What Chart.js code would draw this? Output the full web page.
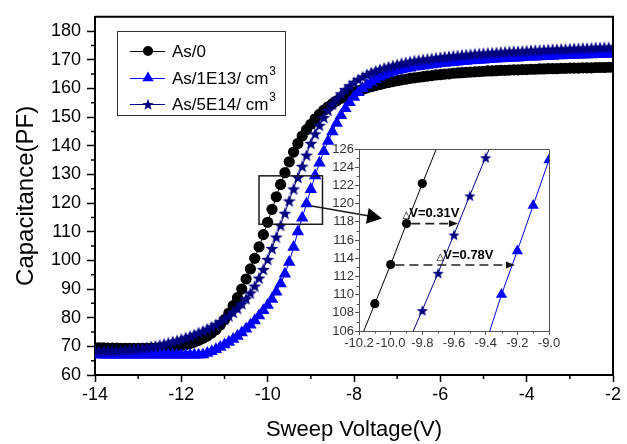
<!DOCTYPE html>
<html>
<head>
<meta charset="utf-8">
<script src="https://cdn.jsdelivr.net/npm/chart.js@4.4.1/dist/chart.umd.min.js"></script>
<style>
  html, body { margin: 0; padding: 0; background: #fff; }
  #wrap { position: relative; width: 627px; height: 444px; }
  #mainChart { position: absolute; left: 0; top: 0; }
  #insetChart { position: absolute; left: 320px; top: 140px; }
</style>
</head>
<body>
<div id="wrap">
  <canvas id="mainChart" width="627" height="444"></canvas>
  <canvas id="insetChart" width="250" height="215"></canvas>
</div>
<script>
// sweep voltage (V), one point every 0.1 V
const voltage = [
  -14.0, -13.9, -13.8, -13.7, -13.6, -13.5, -13.4, -13.3, -13.2, -13.1,
  -13.0, -12.9, -12.8, -12.7, -12.6, -12.5, -12.4, -12.3, -12.2, -12.1,
  -12.0, -11.9, -11.8, -11.7, -11.6, -11.5, -11.4, -11.3, -11.2, -11.1,
  -11.0, -10.9, -10.8, -10.7, -10.6, -10.5, -10.4, -10.3, -10.2, -10.1,
  -10.0, -9.9, -9.8, -9.7, -9.6, -9.5, -9.4, -9.3, -9.2, -9.1,
  -9.0, -8.9, -8.8, -8.7, -8.6, -8.5, -8.4, -8.3, -8.2, -8.1,
  -8.0, -7.9, -7.8, -7.7, -7.6, -7.5, -7.4, -7.3, -7.2, -7.1,
  -7.0, -6.9, -6.8, -6.7, -6.6, -6.5, -6.4, -6.3, -6.2, -6.1,
  -6.0, -5.9, -5.8, -5.7, -5.6, -5.5, -5.4, -5.3, -5.2, -5.1,
  -5.0, -4.9, -4.8, -4.7, -4.6, -4.5, -4.4, -4.3, -4.2, -4.1,
  -4.0, -3.9, -3.8, -3.7, -3.6, -3.5, -3.4, -3.3, -3.2, -3.1,
  -3.0, -2.9, -2.8, -2.7, -2.6, -2.5, -2.4, -2.3, -2.2, -2.1,
  -2.0
];

// capacitance (pF)
const capAs0 = [
  69.6, 69.5, 69.5, 69.4, 69.4, 69.4, 69.3, 69.3, 69.3, 69.3,
  69.3, 69.3, 69.3, 69.4, 69.4, 69.5, 69.6, 69.7, 69.9, 70.1,
  70.3, 70.6, 71.0, 71.5, 72.1, 72.8, 73.6, 74.6, 75.8, 77.4,
  79.3, 81.6, 84.2, 87.0, 90.0, 93.5, 97.0, 100.7, 104.7, 109.0,
  113.3, 117.8, 122.2, 126.5, 130.6, 134.4, 137.8, 140.8, 143.4, 145.6,
  147.5, 149.4, 151.0, 152.4, 153.6, 154.7, 155.7, 156.6, 157.4, 158.1,
  158.7, 159.2, 159.7, 160.2, 160.6, 161.0, 161.4, 161.8, 162.1, 162.4,
  162.7, 163.0, 163.2, 163.5, 163.7, 163.9, 164.1, 164.3, 164.5, 164.7,
  164.8, 165.0, 165.1, 165.3, 165.4, 165.5, 165.6, 165.7, 165.8, 165.9,
  166.0, 166.1, 166.1, 166.2, 166.3, 166.3, 166.4, 166.5, 166.5, 166.6,
  166.6, 166.7, 166.7, 166.8, 166.8, 166.9, 166.9, 166.9, 167.0, 167.0,
  167.1, 167.1, 167.1, 167.2, 167.2, 167.2, 167.3, 167.3, 167.3, 167.4,
  167.4
];
const capAs1E13 = [
  67.1, 67.1, 67.0, 67.0, 67.0, 67.0, 67.0, 67.0, 67.0, 67.0,
  67.0, 67.0, 67.0, 67.0, 67.0, 67.0, 67.0, 67.0, 67.0, 67.0,
  67.0, 67.0, 67.0, 67.0, 67.0, 67.1, 67.6, 68.2, 68.9, 69.7,
  70.6, 71.5, 72.5, 73.6, 74.8, 76.1, 77.5, 79.0, 80.7, 82.5,
  84.4, 86.5, 89.0, 91.9, 95.3, 99.4, 104.6, 110.0, 114.8, 119.8,
  124.8, 129.6, 134.0, 138.0, 141.6, 144.9, 147.9, 150.6, 153.0, 155.1,
  157.0, 158.6, 160.0, 161.2, 162.3, 163.2, 164.0, 164.7, 165.3, 165.8,
  166.2, 166.6, 166.9, 167.2, 167.5, 167.7, 167.9, 168.1, 168.3, 168.5,
  168.7, 168.8, 169.0, 169.1, 169.3, 169.4, 169.5, 169.7, 169.8, 169.9,
  170.0, 170.1, 170.2, 170.3, 170.4, 170.5, 170.6, 170.7, 170.7, 170.8,
  170.9, 171.0, 171.0, 171.1, 171.2, 171.2, 171.3, 171.4, 171.4, 171.5,
  171.5, 171.6, 171.7, 171.7, 171.8, 171.8, 171.9, 171.9, 172.0, 172.0,
  172.1
];
const capAs5E14 = [
  68.6, 68.6, 68.6, 68.6, 68.7, 68.7, 68.8, 68.9, 69.0, 69.1,
  69.3, 69.5, 69.7, 70.0, 70.3, 70.6, 71.0, 71.4, 71.8, 72.2,
  72.7, 73.2, 73.7, 74.3, 74.9, 75.5, 76.2, 77.0, 77.8, 78.7,
  79.7, 80.8, 82.0, 83.4, 85.0, 86.8, 88.8, 91.2, 94.0, 97.0,
  100.5, 104.3, 108.3, 112.4, 116.6, 120.9, 125.1, 129.1, 133.0, 136.9,
  141.0, 144.3, 147.3, 150.0, 152.5, 154.7, 156.6, 158.3, 159.8, 161.1,
  162.3, 163.3, 164.2, 165.0, 165.7, 166.3, 166.8, 167.3, 167.7, 168.1,
  168.5, 168.9, 169.2, 169.5, 169.8, 170.0, 170.2, 170.4, 170.6, 170.8,
  171.0, 171.2, 171.3, 171.5, 171.6, 171.8, 171.9, 172.0, 172.2, 172.3,
  172.4, 172.5, 172.6, 172.7, 172.8, 172.9, 173.0, 173.1, 173.1, 173.2,
  173.3, 173.4, 173.5, 173.5, 173.6, 173.7, 173.8, 173.8, 173.9, 173.9,
  174.0, 174.1, 174.1, 174.2, 174.2, 174.3, 174.4, 174.4, 174.5, 174.5,
  174.6
];

const seriesNames = ["As/0", "As/1E13/ cm", "As/5E14/ cm"];
const seriesSup = ["", "3", "3"];

// zoom window marked on the main plot and the arrow towards the inset (main data units)
const zoomBox = { x0: -10.2, x1: -8.73, y0: 112.6, y1: 129.5 };
const zoomArrow = { x0: -8.98, y0: 119.0, x1: -7.35, y1: 114.6 };

// delta V annotations in the inset (inset data units)
const deltaLabels = [
  { text: "V=0.31V", x: -9.925, y: 118.9 },
  { text: "V=0.78V", x: -9.71, y: 114.3 }
];
const deltaArrows = [
  { x0: -9.87, x1: -9.575, y: 117.8 },
  { x0: -9.97, x1: -9.215, y: 113.25 }
];

Chart.defaults.font.family = "'Liberation Sans', Arial, sans-serif";
Chart.defaults.color = "#000";

const BLACK = "#000000", BLUE = "#0000ff", NAVY = "#000080";

function makeStar(r, color) {
  const c = document.createElement("canvas");
  c.width = c.height = Math.ceil(r * 2) + 2;
  const g = c.getContext("2d");
  const m = c.width / 2;
  g.beginPath();
  for (let k = 0; k < 10; k++) {
    const rr = k % 2 === 0 ? r : r * 0.42;
    const a = -Math.PI / 2 + k * Math.PI / 5;
    g.lineTo(m + rr * Math.cos(a), m + 1 + rr * Math.sin(a));
  }
  g.closePath();
  g.fillStyle = color;
  g.fill();
  return c;
}

const starMain = makeStar(6.8, NAVY);
const starInset = makeStar(6, NAVY);

function pts(ys) {
  return voltage.map((v, i) => ({ x: v, y: ys[i] }));
}

function makeDatasets(circleR, triR, star) {
  return [
    { label: seriesNames[0], data: pts(capAs0), borderColor: BLACK, backgroundColor: BLACK,
      borderWidth: 1, pointStyle: "circle", pointRadius: circleR, pointBorderWidth: 0, order: 2 },
    { label: seriesNames[1], data: pts(capAs1E13), borderColor: BLUE, backgroundColor: BLUE,
      borderWidth: 1, pointStyle: "triangle", pointRadius: triR, pointBorderWidth: 0, order: 1 },
    { label: seriesNames[2], data: pts(capAs5E14), borderColor: NAVY, backgroundColor: NAVY,
      borderWidth: 1, pointStyle: star, pointRadius: 6, order: 0 }
  ];
}

function arrowHead(ctx, x0, y0, x1, y1, len, half) {
  const a = Math.atan2(y1 - y0, x1 - x0);
  ctx.beginPath();
  ctx.moveTo(x1, y1);
  ctx.lineTo(x1 - len * Math.cos(a) + half * Math.sin(a), y1 - len * Math.sin(a) - half * Math.cos(a));
  ctx.lineTo(x1 - len * Math.cos(a) - half * Math.sin(a), y1 - len * Math.sin(a) + half * Math.cos(a));
  ctx.closePath();
  ctx.fill();
}

// frame, minor ticks, legend, zoom box for the main plot
const mainDecor = {
  id: "mainDecor",
  afterDraw(chart) {
    const { ctx, chartArea: a, scales: { x, y } } = chart;
    ctx.save();
    ctx.strokeStyle = "#000";
    ctx.lineWidth = 2;
    ctx.beginPath();
    ctx.moveTo(a.left, a.top); ctx.lineTo(a.right, a.top); ctx.lineTo(a.right, a.bottom);
    ctx.stroke();

    // minor ticks
    ctx.lineWidth = 1.5;
    ctx.beginPath();
    for (let v = -13; v < -2; v += 2) {
      const px = x.getPixelForValue(v);
      ctx.moveTo(px, a.bottom); ctx.lineTo(px, a.bottom + 4);
    }
    for (let v = 65; v < 185; v += 10) {
      const py = y.getPixelForValue(v);
      ctx.moveTo(a.left, py); ctx.lineTo(a.left - 4, py);
    }
    ctx.stroke();

    // zoom box + arrow
    ctx.lineWidth = 1.5;
    ctx.strokeStyle = "#1a1a1a";
    const bx0 = x.getPixelForValue(zoomBox.x0), bx1 = x.getPixelForValue(zoomBox.x1);
    const by0 = y.getPixelForValue(zoomBox.y1), by1 = y.getPixelForValue(zoomBox.y0);
    ctx.strokeRect(bx0, by0, bx1 - bx0, by1 - by0);
    const ax0 = x.getPixelForValue(zoomArrow.x0), ay0 = y.getPixelForValue(zoomArrow.y0);
    const ax1 = x.getPixelForValue(zoomArrow.x1), ay1 = y.getPixelForValue(zoomArrow.y1);
    ctx.beginPath();
    ctx.moveTo(ax0, ay0); ctx.lineTo(ax1 - 10, ay1 - 2);
    ctx.stroke();
    ctx.fillStyle = "#000";
    arrowHead(ctx, ax0, ay0, ax1, ay1, 15, 8);

    // legend
    const lx = 117, ly = 31, lw = 168, lh = 84;
    ctx.fillStyle = "#fff";
    ctx.fillRect(lx, ly, lw, lh);
    ctx.strokeStyle = "#333";
    ctx.lineWidth = 1;
    ctx.strokeRect(lx + 0.5, ly + 0.5, lw, lh);
    const rows = [51, 78, 104];
    const colors = [BLACK, BLUE, NAVY];
    rows.forEach((ry, i) => {
      ctx.strokeStyle = colors[i];
      ctx.lineWidth = 1;
      ctx.beginPath();
      ctx.moveTo(130, ry + 0.5); ctx.lineTo(165, ry + 0.5);
      ctx.stroke();
      ctx.fillStyle = colors[i];
      if (i === 0) {
        ctx.beginPath(); ctx.arc(148, ry, 5, 0, Math.PI * 2); ctx.fill();
      } else if (i === 1) {
        const r = 6.5;
        ctx.beginPath();
        ctx.moveTo(148, ry - r);
        ctx.lineTo(148 + r * 0.866, ry + r * 0.5);
        ctx.lineTo(148 - r * 0.866, ry + r * 0.5);
        ctx.closePath(); ctx.fill();
      } else {
        ctx.drawImage(starInset, 148 - starInset.width / 2, ry - starInset.height / 2);
      }
      ctx.fillStyle = "#000";
      ctx.font = "17px 'Liberation Sans', Arial, sans-serif";
      ctx.textBaseline = "middle";
      ctx.textAlign = "left";
      ctx.fillText(seriesNames[i], 172, ry + 1);
      if (seriesSup[i]) {
        const w = ctx.measureText(seriesNames[i]).width;
        ctx.font = "12px 'Liberation Sans', Arial, sans-serif";
        ctx.fillText(seriesSup[i], 172 + w + 1, ry - 6);
      }
    });
    ctx.restore();
  }
};

const mainChart = new Chart(document.getElementById("mainChart"), {
  type: "line",
  data: { datasets: makeDatasets(5.6, 7.2, starMain) },
  options: {
    responsive: false,
    animation: false,
    layout: { padding: { top: 11, right: 14, left: 0, bottom: 0 } },
    plugins: { legend: { display: false }, tooltip: { enabled: false } },
    scales: {
      x: {
        type: "linear", min: -14, max: -2,
        ticks: { stepSize: 2, font: { size: 18 }, color: "#000", padding: 2, maxRotation: 0 },
        grid: { drawOnChartArea: false, tickLength: 7, tickColor: "#000", tickWidth: 1.5 },
        border: { color: "#000", width: 2 },
        title: { display: true, text: "Sweep Voltage(V)", font: { size: 22 }, color: "#000", padding: { top: 0, bottom: 1 } },
        afterFit(s) { s.height = 69; }
      },
      y: {
        min: 60, max: 185,
        ticks: { stepSize: 10, includeBounds: false, font: { size: 18 }, color: "#000", padding: 6 },
        grid: { drawOnChartArea: false, tickLength: 8, tickColor: "#000", tickWidth: 1.5 },
        border: { color: "#000", width: 2 },
        title: { display: true, text: "Capacitance(PF)", font: { size: 24 }, color: "#000", padding: { top: 12, bottom: 0 } },
        afterFit(s) { s.width = 95; }
      }
    }
  },
  plugins: [mainDecor]
});

// inset: frame, minor ticks, delta V marks (transparent background, main curves never pass behind it)
const insetDecor = {
  id: "insetDecor",
  afterDraw(chart) {
    const { ctx, chartArea: a, scales: { x, y } } = chart;
    ctx.save();
    ctx.strokeStyle = "#555";
    ctx.lineWidth = 1;
    ctx.beginPath();
    ctx.moveTo(a.left, a.top + 0.5); ctx.lineTo(a.right + 0.5, a.top + 0.5); ctx.lineTo(a.right + 0.5, a.bottom);
    for (let v = 107; v < 126; v += 2) {
      const py = Math.round(y.getPixelForValue(v)) + 0.5;
      ctx.moveTo(a.left, py); ctx.lineTo(a.left - 2.5, py);
    }
    for (let k = 0; k < 6; k++) {
      const px = Math.round(x.getPixelForValue(-10.1 + k * 0.2)) + 0.5;
      ctx.moveTo(px, a.bottom); ctx.lineTo(px, a.bottom + 2.5);
    }
    ctx.stroke();

    // dashed arrows
    ctx.strokeStyle = "#222";
    ctx.fillStyle = "#111";
    ctx.lineWidth = 1.6;
    deltaArrows.forEach(d => {
      const x0 = x.getPixelForValue(d.x0), x1 = x.getPixelForValue(d.x1), py = y.getPixelForValue(d.y);
      ctx.setLineDash([9, 5]);
      ctx.beginPath(); ctx.moveTo(x0, py); ctx.lineTo(x1 - 7, py); ctx.stroke();
      ctx.setLineDash([]);
      arrowHead(ctx, x0, py, x1, py, 9, 3.5);
    });

    // labels
    ctx.textBaseline = "middle";
    ctx.textAlign = "left";
    deltaLabels.forEach(d => {
      const px = x.getPixelForValue(d.x), py = y.getPixelForValue(d.y);
      ctx.font = "bold 10px 'DejaVu Sans', sans-serif";
      ctx.fillStyle = "#000";
      ctx.fillText("\u25B3", px, py + 2);
      const w = ctx.measureText("\u25B3").width;
      ctx.font = "bold 13px 'Liberation Sans', Arial, sans-serif";
      ctx.fillText(d.text, px + w - 1, py);
    });
    ctx.restore();
  }
};

const insetChart = new Chart(document.getElementById("insetChart"), {
  type: "line",
  data: { datasets: makeDatasets(4.6, 6.5, starInset) },
  options: {
    responsive: false,
    animation: false,
    layout: { padding: { top: 9, right: 21, left: 0, bottom: 0 } },
    plugins: { legend: { display: false }, tooltip: { enabled: false } },
    scales: {
      x: {
        type: "linear", min: -10.2, max: -9.0,
        ticks: { stepSize: 0.2, font: { size: 13 }, color: "#333", padding: 1, maxRotation: 0,
                 autoSkip: false, callback: v => Number(v).toFixed(1) },
        grid: { drawOnChartArea: false, tickLength: 4, tickColor: "#555", tickWidth: 1 },
        border: { color: "#555", width: 1 },
        afterFit(s) { s.height = 24; }
      },
      y: {
        min: 106, max: 126,
        ticks: { stepSize: 2, font: { size: 13 }, color: "#333", padding: 1, autoSkip: false },
        grid: { drawOnChartArea: false, tickLength: 4, tickColor: "#555", tickWidth: 1 },
        border: { color: "#555", width: 1 },
        afterFit(s) { s.width = 39; }
      }
    }
  },
  plugins: [insetDecor]
});
</script>
</body>
</html>
